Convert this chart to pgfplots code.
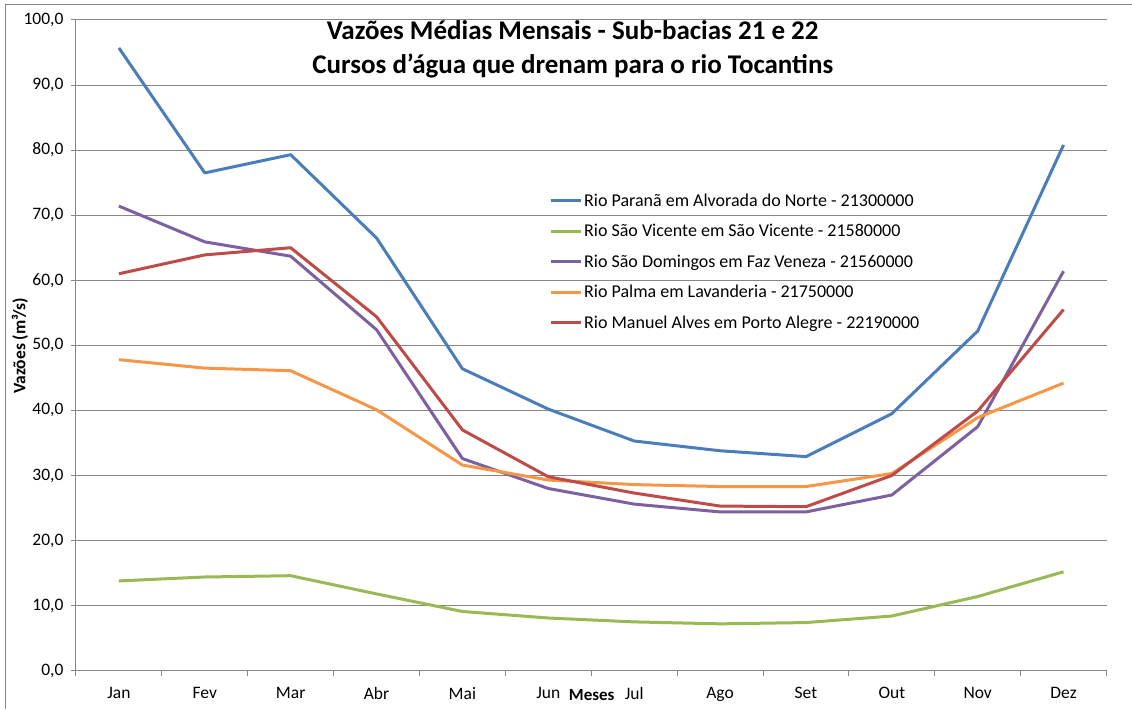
\documentclass[border=0pt]{standalone}
\usepackage{fontspec}
\setmainfont{Carlito}
\usepackage{pgfplots}
\pgfplotsset{compat=1.18}
\definecolor{cblue}{HTML}{4A7EBB}
\definecolor{cgreen}{HTML}{98B954}
\definecolor{cpurple}{HTML}{7D60A0}
\definecolor{corange}{HTML}{F79646}
\definecolor{cred}{HTML}{BE4B48}
\definecolor{axgray}{RGB}{134,134,134}
\begin{document}
\begin{tikzpicture}[x=1pt,y=1pt]
\path (0,0) rectangle (1132,709);
\draw[axgray, line width=1pt] (6,0) -- (6,704) -- (1132,704);
\begin{axis}[
  at={(76pt,38pt)}, anchor=south west,
  width=1031pt, height=651pt, scale only axis,
  xmin=0.5, xmax=12.5, ymin=0, ymax=100,
  xtick={1,...,12},
  xticklabels={Jan,Fev,Mar,Abr,Mai,Jun,Jul,Ago,Set,Out,Nov,Dez},
  minor xtick={0.5,1.5,...,12.5},
  major x tick style={draw=none},
  ytick={0,10,...,100},
  ymajorgrids,
  grid style={axgray, line width=1pt},
  axis x line=bottom, axis y line=left,
  axis line style={draw=axgray, line width=1pt, -},
  tick style={draw=axgray, line width=1pt},
  tick align=outside,
  major tick length=5pt, minor tick length=5pt,
  tick label style={font=\fontsize{17.5}{21}\selectfont},
  yticklabel style={xshift=-4pt, /pgf/number format/.cd, fixed, fixed zerofill, precision=1, use comma, assume math mode=true},
  xticklabel style={yshift=-8pt},
  clip=false,
  legend style={at={(0.459,0.736)}, anchor=north west, draw=none, fill=none,
    font=\fontsize{18}{21}\selectfont, row sep=12.5pt, inner sep=0pt},
  legend cell align=left,
  legend image code/.code={\draw[#1, line width=3pt] (0pt,0pt) -- (30pt,0pt);},
  every axis plot/.append style={line width=3pt, line join=round},
]
\addplot[cblue] coordinates {(1,95.7) (2,76.5) (3,79.3) (4,66.5) (5,46.4) (6,40.2) (7,35.3) (8,33.8) (9,32.9) (10,39.5) (11,52.2) (12,80.8)};
\addlegendentry{Rio Paranã em Alvorada do Norte - 21300000}
\addplot[cgreen] coordinates {(1,13.8) (2,14.4) (3,14.6) (4,11.8) (5,9.1) (6,8.1) (7,7.5) (8,7.2) (9,7.4) (10,8.4) (11,11.4) (12,15.2)};
\addlegendentry{Rio São Vicente em São Vicente - 21580000}
\addplot[cpurple] coordinates {(1,71.4) (2,65.9) (3,63.7) (4,52.4) (5,32.6) (6,28.0) (7,25.6) (8,24.4) (9,24.4) (10,27.0) (11,37.5) (12,61.4)};
\addlegendentry{Rio São Domingos em Faz Veneza - 21560000}
\addplot[corange] coordinates {(1,47.8) (2,46.5) (3,46.1) (4,40.1) (5,31.6) (6,29.3) (7,28.6) (8,28.3) (9,28.3) (10,30.3) (11,38.9) (12,44.2)};
\addlegendentry{Rio Palma em Lavanderia - 21750000}
\addplot[cred] coordinates {(1,61.0) (2,63.9) (3,65.0) (4,54.4) (5,37.0) (6,29.8) (7,27.3) (8,25.3) (9,25.2) (10,30.0) (11,39.9) (12,55.5)};
\addlegendentry{Rio Manuel Alves em Porto Alegre - 22190000}
\end{axis}
\node[font=\fontsize{27}{34}\selectfont\bfseries, align=center] at (573,660) {Vazões Médias Mensais - Sub-bacias 21 e 22\\Cursos d'água que drenam para o rio Tocantins};
\node[font=\fontsize{17}{20}\selectfont\bfseries] at (592,14) {Meses};
\node[font=\fontsize{17.5}{20}\selectfont\bfseries, rotate=90] at (20,363) {Vazões (m³/s)};
\end{tikzpicture}
\end{document}
